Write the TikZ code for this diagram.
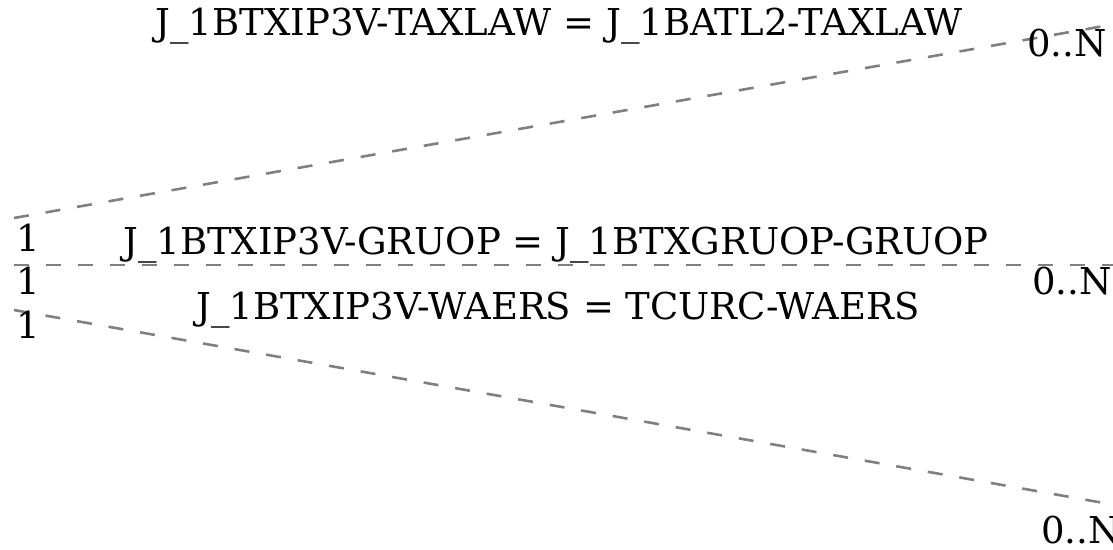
\documentclass[tikz,border=0pt]{standalone}
\usepackage{fontspec}
\setmainfont{DejaVu Serif}
\usepackage{tikz}
\usetikzlibrary{positioning}

\begin{document}
\begin{tikzpicture}[x=1pt,y=-1pt,
  link/.style={draw=gray, line width=2.6pt, dash pattern=on 15pt off 17pt},
  card/.style={anchor=base west, inner sep=0pt, font=\fontsize{37}{42}\selectfont},
  cond/.style={anchor=base, inner sep=0pt, font=\fontsize{37}{42}\selectfont}]
\useasboundingbox (0,0) rectangle (1113,549);
% End points
\coordinate (ip3v1) at (14,218);
\coordinate (ip3v2) at (14,265);
\coordinate (ip3v3) at (14,310);
\coordinate (atl2) at (1104,26);
\coordinate (gruop) at (1113,265);
\coordinate (tcurc) at (1104,503);
% Links
\draw[link] (ip3v1) -- (atl2);
\draw[link] (ip3v2) -- (gruop);
\draw[link] (ip3v3) -- (tcurc);
% Cardinalities
\node[card] (c1) at (16,251) {1};
\node[card] (c2) at (16,294) {1};
\node[card] (c3) at (16,338) {1};
\node[card] (n1) at (1027,56) {0..N};
\node[card] (n2) at (1032,294) {0..N};
\node[card] (n3) at (1041,543) {0..N};
% Conditions
\node[cond] (taxlaw) at (559,35) {J\_1BTXIP3V-TAXLAW = J\_1BATL2-TAXLAW};
\node[cond] (gruopl) at (556,254) {J\_1BTXIP3V-GRUOP = J\_1BTXGRUOP-GRUOP};
\node[cond] (waers) at (558,319) {J\_1BTXIP3V-WAERS = TCURC-WAERS};
\end{tikzpicture}
\end{document}
